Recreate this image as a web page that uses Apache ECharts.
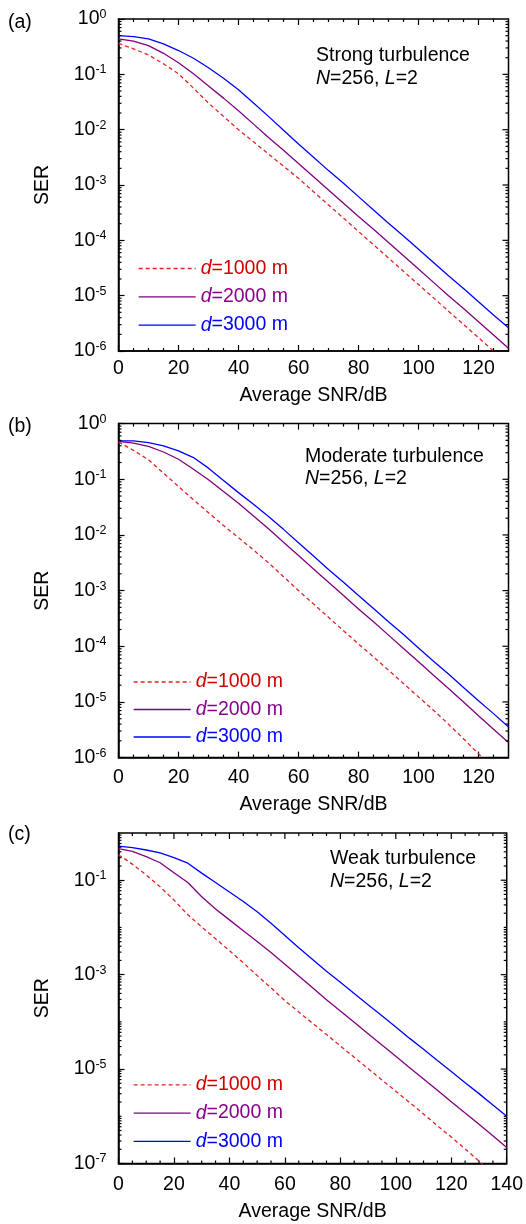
<!DOCTYPE html>
<html><head><meta charset="utf-8">
<script src="https://cdn.jsdelivr.net/npm/echarts@6/dist/echarts.min.js"></script>
<style>html,body{margin:0;padding:0;background:#fff}#c{width:526px;height:1224px}</style>
</head><body><div id="c"></div><script>
// ---------------- data ----------------
// x: average SNR in dB; y values stored as log10(SER)
const snrAB = [0,5,10,15,20,25,30,35,40,45,50,55,60,65,70,75,80,85,90,95,100,105,110,115,120,125,130];
const snrC  = [0,5,10,15,20,25,30,35,40,45,50,55,60,65,70,75,80,85,90,95,100,105,110,115,120,125,130,135,140];

const aRed    = [-0.44,-0.54,-0.65,-0.81,-0.99,-1.25,-1.52,-1.76,-2.00,-2.22,-2.44,-2.66,-2.88,-3.12,-3.36,-3.60,-3.84,-4.08,-4.32,-4.56,-4.80,-5.04,-5.28,-5.52,-5.76,-6.00,-6.24];
const aPurple = [-0.36,-0.40,-0.48,-0.62,-0.79,-0.99,-1.21,-1.43,-1.66,-1.90,-2.14,-2.37,-2.61,-2.85,-3.09,-3.33,-3.57,-3.80,-4.04,-4.28,-4.52,-4.76,-5.00,-5.23,-5.47,-5.71,-5.95];
const aBlue   = [-0.30,-0.32,-0.36,-0.45,-0.57,-0.71,-0.88,-1.07,-1.28,-1.52,-1.76,-2.01,-2.26,-2.50,-2.74,-2.97,-3.21,-3.45,-3.69,-3.92,-4.16,-4.40,-4.64,-4.87,-5.11,-5.35,-5.58];

const bRed    = [-0.33,-0.48,-0.65,-0.89,-1.13,-1.37,-1.60,-1.83,-2.05,-2.27,-2.50,-2.75,-3.00,-3.24,-3.48,-3.72,-3.96,-4.19,-4.43,-4.67,-4.91,-5.15,-5.40,-5.66,-5.93,-6.20,-6.45];
const bPurple = [-0.32,-0.35,-0.41,-0.51,-0.64,-0.82,-1.01,-1.22,-1.43,-1.66,-1.89,-2.13,-2.37,-2.61,-2.85,-3.09,-3.33,-3.56,-3.80,-4.04,-4.28,-4.52,-4.76,-5.00,-5.25,-5.49,-5.73];
const bBlue   = [-0.31,-0.31,-0.34,-0.40,-0.49,-0.61,-0.80,-1.02,-1.24,-1.45,-1.67,-1.90,-2.14,-2.38,-2.62,-2.85,-3.09,-3.32,-3.56,-3.79,-4.03,-4.27,-4.50,-4.74,-4.98,-5.21,-5.45];

const cRed    = [-0.46,-0.66,-0.89,-1.14,-1.42,-1.73,-1.99,-2.24,-2.49,-2.75,-3.02,-3.28,-3.55,-3.79,-4.03,-4.27,-4.51,-4.75,-4.99,-5.23,-5.47,-5.71,-5.95,-6.20,-6.44,-6.69,-6.95,-7.20,-7.45];
const cPurple = [-0.33,-0.39,-0.50,-0.63,-0.84,-1.05,-1.35,-1.61,-1.84,-2.07,-2.30,-2.53,-2.78,-3.03,-3.28,-3.53,-3.77,-4.01,-4.25,-4.49,-4.73,-4.97,-5.21,-5.45,-5.69,-5.93,-6.17,-6.41,-6.66];
const cBlue   = [-0.28,-0.31,-0.36,-0.42,-0.52,-0.64,-0.85,-1.05,-1.25,-1.45,-1.67,-1.91,-2.17,-2.43,-2.68,-2.93,-3.16,-3.40,-3.64,-3.87,-4.11,-4.35,-4.58,-4.82,-5.05,-5.29,-5.52,-5.76,-6.00];

const seriesNames = ['d=1000 m','d=2000 m','d=3000 m'];
const xTicksAB = [0,20,40,60,80,100,120];
const xTicksC  = [0,20,40,60,80,100,120,140];
const yTicksAB = [1,1e-1,1e-2,1e-3,1e-4,1e-5,1e-6];
const yTicksC  = [1e-1,1e-3,1e-5,1e-7];
const panelLetters = ['(a)','(b)','(c)'];
const turbulence = ['Strong turbulence','Moderate turbulence','Weak turbulence'];
const paramText = '{i|N}=256, {i|L}=2';
const xName = 'Average SNR/dB';
const yName = 'SER';

// ---------------- styles / layout ----------------
const FONT = '"Liberation Sans", Arial, Helvetica, sans-serif';
const FS = 19.5;
const LINE_COLORS = ['#e32222','#800080','#0000ff'];
const TEXT_COLORS = ['#d00000','#8a008a','#0000ff'];

const panels = [
  {snr:snrAB, ys:[aRed,aPurple,aBlue], xMax:130, yMinExp:-6, xTicks:xTicksAB, yTicks:yTicksAB,
   grid:{left:118.5, top:19, width:390, height:332}, legend:{left:133, top:253.5, gap:8.3},
   ann:{x:316, y1:56, y2:79}, letterY:23, xMargin:8, xGap:35},
  {snr:snrAB, ys:[bRed,bPurple,bBlue], xMax:130, yMinExp:-6, xTicks:xTicksAB, yTicks:yTicksAB,
   grid:{left:118.5, top:423.6, width:390, height:334}, legend:{left:128, top:667, gap:7.5},
   ann:{x:305, y1:456.5, y2:478.5}, letterY:426.5, xMargin:10, xGap:37},
  {snr:snrC, ys:[cRed,cPurple,cBlue], xMax:140, yMinExp:-7, xTicks:xTicksC, yTicks:yTicksC,
   grid:{left:118.5, top:833, width:390, height:330.5}, legend:{left:128, top:1069.8, gap:8.3},
   ann:{x:330, y1:858.5, y2:881.5}, letterY:835, xMargin:11, xGap:38}
];

function supLabel(v){
  const e = Math.round(Math.log10(v));
  return '{b|10}{s|' + (e < 0 ? '-' + (-e) : e) + '}';
}

function tickData(xMax, yMinExp, majorY){
  const d = [];
  for (let v = 5; v < xMax; v += 5){
    const major = v % 20 === 0;
    if (!major) d.push([v, 1e-3, 0, 3]);
    d.push([v, 1e-3, 1, major ? 6 : 3]);
  }
  for (let e = yMinExp; e < 0; e++){
    for (let m = 2; m <= 9; m++){
      const v = m * Math.pow(10, e);
      d.push([10, v, 2, 3]);
      d.push([10, v, 3, 3]);
    }
  }
  for (let e = yMinExp + 1; e < 0; e++){
    const v = Math.pow(10, e);
    const major = majorY.some(t => Math.abs(Math.log10(t) - e) < 1e-6);
    if (!major) d.push([10, v, 2, 3]);
    d.push([10, v, 3, major ? 6 : 3]);
  }
  return d;
}

function renderTick(params, api){
  const cs = params.coordSys;
  const kind = api.value(2), len = api.value(3);
  const p = api.coord([api.value(0), api.value(1)]);
  let s;
  if (kind === 0) s = {x1:p[0], y1:cs.y+cs.height, x2:p[0], y2:cs.y+cs.height-len};
  else if (kind === 1) s = {x1:p[0], y1:cs.y, x2:p[0], y2:cs.y+len};
  else if (kind === 2) s = {x1:cs.x, y1:p[1], x2:cs.x+len, y2:p[1]};
  else s = {x1:cs.x+cs.width, y1:p[1], x2:cs.x+cs.width-len, y2:p[1]};
  return {type:'line', shape:s, style:{stroke:'#000', lineWidth:1.2}};
}

const legendRich = {};
['r','p','b'].forEach((k, i) => {
  legendRich[k + 'i'] = {color:TEXT_COLORS[i], fontStyle:'italic', fontSize:FS, fontFamily:FONT, lineHeight:20};
  legendRich[k] = {color:TEXT_COLORS[i], fontSize:FS, fontFamily:FONT, lineHeight:20};
});
function legendFormatter(name){
  const k = ['r','p','b'][seriesNames.indexOf(name)];
  return '{' + k + 'i|d}{' + k + '|' + name.slice(1) + '}';
}

const grids = [], xAxes = [], yAxes = [], series = [], legends = [], graphics = [];
panels.forEach((P, gi) => {
  grids.push({left:P.grid.left, top:P.grid.top, width:P.grid.width, height:P.grid.height,
              show:true, borderColor:'#000', borderWidth:1.5, backgroundColor:'transparent', containLabel:false});
  xAxes.push({type:'value', gridIndex:gi, min:0, max:P.xMax,
    name:xName, nameLocation:'middle', nameGap:P.xGap,
    nameTextStyle:{fontSize:FS, fontFamily:FONT, color:'#000'},
    axisLine:{show:true, onZero:false, lineStyle:{color:'#000', width:1.5}},
    axisTick:{show:true, inside:true, length:6, lineStyle:{color:'#000', width:1.2}, customValues:P.xTicks},
    axisLabel:{show:true, margin:P.xMargin, fontSize:FS, fontFamily:FONT, color:'#000', customValues:P.xTicks},
    splitLine:{show:false}});
  yAxes.push({type:'log', logBase:10, gridIndex:gi, min:Math.pow(10, P.yMinExp), max:1,
    name:yName, nameLocation:'middle', nameGap:66, nameRotate:90,
    nameTextStyle:{fontSize:FS, fontFamily:FONT, color:'#000'},
    axisLine:{show:true, onZero:false, lineStyle:{color:'#000', width:1.5}},
    axisTick:{show:true, inside:true, length:6, lineStyle:{color:'#000', width:1.2}, customValues:P.yTicks},
    axisLabel:{show:true, margin:12, color:'#000', customValues:P.yTicks, formatter:supLabel,
      rich:{b:{fontSize:FS, fontFamily:FONT, color:'#000'},
            s:{fontSize:12.5, fontFamily:FONT, color:'#000', padding:[0,0,9,0]}}},
    splitLine:{show:false}, minorTick:{show:false}});
  P.ys.forEach((arr, si) => {
    series.push({type:'line', name:seriesNames[si], xAxisIndex:gi, yAxisIndex:gi,
      data:P.snr.map((s, i) => [s, Math.pow(10, arr[i])]),
      symbol:'none', showSymbol:false, clip:true, z:3,
      lineStyle:{color:LINE_COLORS[si], width:1.3, type: si === 0 ? [4,3] : 'solid'},
      itemStyle:{color:LINE_COLORS[si]}});
  });
  series.push({type:'custom', xAxisIndex:gi, yAxisIndex:gi, silent:true, clip:false, z:4,
    dimensions:['x','y','k','l'], encode:{x:0, y:1},
    renderItem:renderTick, data:tickData(P.xMax, P.yMinExp, P.yTicks)});
  legends.push({orient:'vertical', left:P.legend.left, top:P.legend.top, itemGap:P.legend.gap,
    itemWidth:57, itemHeight:14, selectedMode:false, data:seriesNames,
    itemStyle:{opacity:0}, lineStyle:{width:1.3},
    formatter:legendFormatter, textStyle:{fontSize:FS, fontFamily:FONT, lineHeight:20, rich:legendRich}});
  graphics.push({type:'text', x:P.ann.x, y:P.ann.y1,
    style:{text:turbulence[gi], fill:'#000', fontSize:FS, fontFamily:FONT, verticalAlign:'middle'}});
  graphics.push({type:'text', x:P.ann.x, y:P.ann.y2,
    style:{text:paramText, fill:'#000', fontSize:FS, fontFamily:FONT, verticalAlign:'middle',
      rich:{i:{fontStyle:'italic', fontSize:FS, fontFamily:FONT, fill:'#000'}}}});
  graphics.push({type:'text', x:8, y:P.letterY,
    style:{text:panelLetters[gi], fill:'#000', fontSize:FS, fontFamily:FONT, verticalAlign:'middle'}});
});

const chart = echarts.init(document.getElementById('c'), null, {renderer:'canvas', width:526, height:1224});
chart.setOption({
  animation:false, backgroundColor:'#fff',
  textStyle:{fontFamily:FONT},
  grid:grids, xAxis:xAxes, yAxis:yAxes, series:series, legend:legends, graphic:graphics
});
</script></body></html>
